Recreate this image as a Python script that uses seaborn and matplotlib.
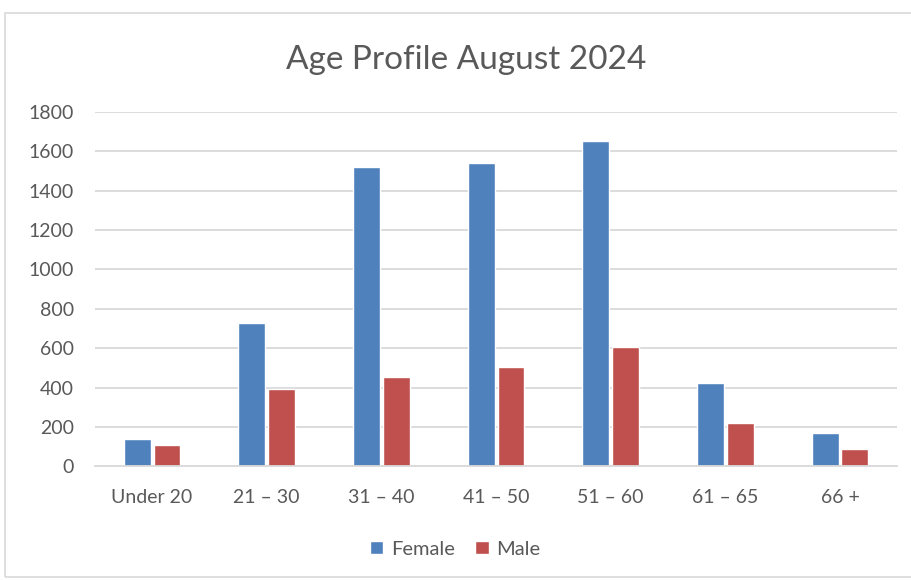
import pandas as pd
import seaborn as sns
import matplotlib.pyplot as plt
from matplotlib.patches import Rectangle

# data
age_groups = ["Under 20", "21 – 30", "31 – 40", "41 – 50", "51 – 60", "61 – 65", "66 +"]
female = [137, 728, 1520, 1540, 1652, 422, 168]
male = [107, 392, 453, 504, 606, 219, 87]

df = pd.DataFrame({
    "Age": age_groups * 2,
    "Count": female + male,
    "Sex": ["Female"] * len(age_groups) + ["Male"] * len(age_groups),
})

sns.set_theme(style="white")
plt.rcParams['font.family'] = ['Lato', 'DejaVu Sans']

fig = plt.figure(figsize=(9.11, 5.80), dpi=100)
ax = fig.add_axes([0.104, 0.196, 0.881, 0.611])

sns.barplot(data=df, x="Age", y="Count", hue="Sex",
            palette={"Female": "#4f81bd", "Male": "#c0504d"},
            width=0.52, gap=0.1, ax=ax, saturation=1)

ax.set_ylim(0, 1800)
ax.set_xlim(-0.5, 6.5)
ax.set_yticks(range(0, 1801, 200))
ax.yaxis.grid(True, color="#d9d9d9", linewidth=1.3)
ax.set_axisbelow(True)
for s in ["top", "right", "left"]:
    ax.spines[s].set_visible(False)
ax.spines["bottom"].set_color("#d9d9d9")
ax.spines["bottom"].set_linewidth(1.3)
ax.tick_params(axis="both", length=0, labelsize=14, colors="#595959")
ax.tick_params(axis="x", pad=16)
ax.tick_params(axis="y", pad=15)
ax.set_xlabel("")
ax.set_ylabel("")

fig.text(0.512, 0.897, "Age Profile August 2024", ha="center", va="center",
         fontsize=24, color="#595959")

ax.legend(loc="center", bbox_to_anchor=(0.5, 0.053), bbox_transform=fig.transFigure,
          ncol=2, frameon=False, fontsize=14.5, handlelength=0.65, handleheight=0.65,
          columnspacing=1.0, handletextpad=0.4, labelcolor="#595959")

# chart border
fig.patches.append(Rectangle((0.005, 0.005), 1.2, 0.972, transform=fig.transFigure,
                             fill=False, edgecolor="#d9d9d9", linewidth=1.2))

plt.savefig("out.png", dpi=100)
